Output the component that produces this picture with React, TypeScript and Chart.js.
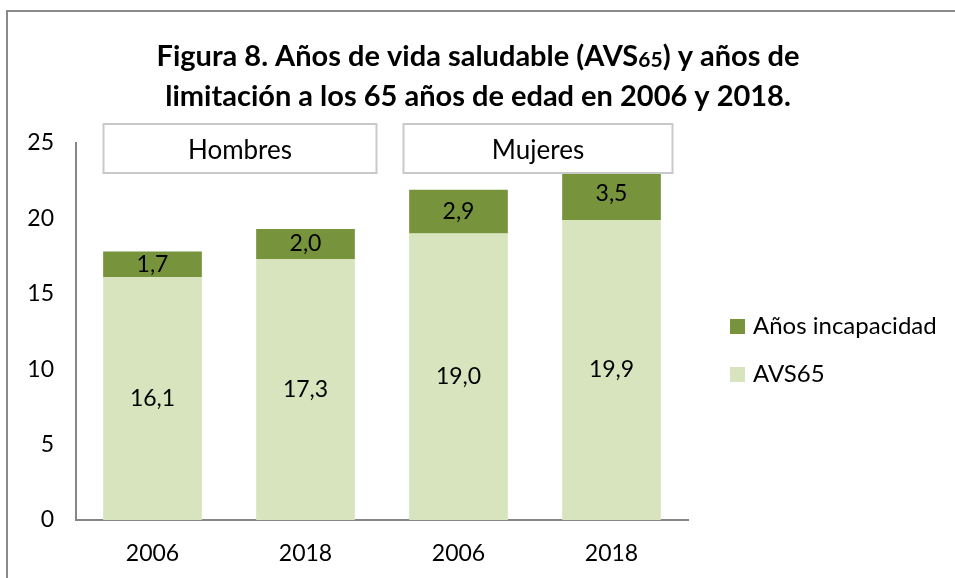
import React, { useEffect, useRef } from "react";
import { Chart, registerables } from "chart.js";

Chart.register(...registerables);

const categories = ["2006", "2018", "2006", "2018"];
const avs65 = [16.1, 17.3, 19.0, 19.9];
const incapacidad = [1.7, 2.0, 2.9, 3.5];
const seriesNames = ["AVS65", "Años incapacidad"];
const groups = ["Hombres", "Mujeres"];
const yTicks = [0, 5, 10, 15, 20, 25];
const titleLine1 = [
  { t: "Figura 8. Años de vida saludable (AVS", small: false },
  { t: "65", small: true },
  { t: ") y años de", small: false },
];
const titleLine2 = "limitación a los 65 años de edad en 2006 y 2018.";

const LIGHT = "#d7e4bd";
const DARK = "#77933c";
const AXIS = "#868686";
const FONT = "Lato, 'Open Sans', sans-serif";

const fmt = (v: number) => v.toFixed(1).replace(".", ",");

const decorPlugin = {
  id: "decor",
  beforeDraw(chart: any) {
    const ctx = chart.ctx;
    ctx.save();
    ctx.fillStyle = "#ffffff";
    ctx.fillRect(0, 0, chart.width, chart.height);
    ctx.strokeStyle = "#8a8a8a";
    ctx.lineWidth = 2;
    ctx.strokeRect(7, 11, chart.width + 10, chart.height + 10);
    ctx.restore();
  },
  afterDraw(chart: any) {
    const ctx = chart.ctx;
    const cx = 478;
    ctx.save();
    ctx.fillStyle = "#000";
    ctx.textBaseline = "middle";
    const big = `bold 29px ${FONT}`;
    const small = `bold 21px ${FONT}`;
    let total = 0;
    for (const s of titleLine1) {
      ctx.font = s.small ? small : big;
      total += ctx.measureText(s.t).width;
    }
    let x = cx - total / 2;
    ctx.textAlign = "left";
    for (const s of titleLine1) {
      ctx.font = s.small ? small : big;
      ctx.fillText(s.t, x, s.small ? 60 : 57);
      x += ctx.measureText(s.t).width;
    }
    ctx.font = big;
    ctx.textAlign = "center";
    ctx.fillText(titleLine2, cx, 97);

    const xs = chart.scales.x;
    const boxes = [
      { label: groups[0], l: xs.getPixelForValue(0) - 49, r: xs.getPixelForValue(1) + 71 },
      { label: groups[1], l: xs.getPixelForValue(2) - 55, r: xs.getPixelForValue(3) + 61 },
    ];
    for (const b of boxes) {
      ctx.fillStyle = "#ffffff";
      ctx.fillRect(b.l, 124, b.r - b.l, 49);
      ctx.strokeStyle = "#c9c9c9";
      ctx.lineWidth = 2;
      ctx.strokeRect(b.l, 124, b.r - b.l, 49);
      ctx.fillStyle = "#000";
      ctx.font = `26px ${FONT}`;
      ctx.fillText(b.label, (b.l + b.r) / 2, 151);
    }

    const legend = [
      { name: seriesNames[1], color: DARK, y: 326 },
      { name: seriesNames[0], color: LIGHT, y: 374 },
    ];
    ctx.textAlign = "left";
    ctx.font = `24px ${FONT}`;
    for (const l of legend) {
      ctx.fillStyle = l.color;
      ctx.fillRect(730, l.y - 7, 15, 15);
      ctx.fillStyle = "#000";
      ctx.fillText(l.name, 753, l.y);
    }
    ctx.restore();
  },
  afterDatasetsDraw(chart: any) {
    const ctx = chart.ctx;
    ctx.save();
    ctx.fillStyle = "#000";
    ctx.font = `23px ${FONT}`;
    ctx.textAlign = "center";
    ctx.textBaseline = "middle";
    chart.data.datasets.forEach((ds: any, di: number) => {
      const meta = chart.getDatasetMeta(di);
      meta.data.forEach((bar: any, i: number) => {
        const y = (bar.y + bar.base) / 2;
        ctx.fillText(fmt(ds.data[i]), bar.x, y);
      });
    });
    ctx.restore();
  },
};

export default function App() {
  const ref = useRef<HTMLCanvasElement | null>(null);
  useEffect(() => {
    if (!ref.current) return;
    const chart = new Chart(ref.current, {
      type: "bar",
      data: {
        labels: categories,
        datasets: [
          { label: seriesNames[0], data: avs65, backgroundColor: LIGHT, borderWidth: 0 },
          { label: seriesNames[1], data: incapacidad, backgroundColor: DARK, borderWidth: 0 },
        ],
      },
      options: {
        animation: false,
        responsive: false,
        devicePixelRatio: 1,
        layout: { padding: { left: 0, right: 267, top: 143, bottom: 0 } },
        plugins: { legend: { display: false }, title: { display: false }, tooltip: { enabled: false } },
        datasets: { bar: { categoryPercentage: 1, barPercentage: 0.645 } },
        scales: {
          x: {
            stacked: true,
            grid: { display: false, drawTicks: false },
            border: { display: true, color: AXIS, width: 2 },
            ticks: { color: "#000", font: { family: FONT, size: 23 }, padding: 20 },
            afterFit: (s: any) => { s.height = 58; },
          },
          y: {
            stacked: true,
            min: 0,
            max: 25,
            afterBuildTicks: (s: any) => { s.ticks = yTicks.map((v) => ({ value: v })); },
            grid: { display: false, drawTicks: false },
            border: { display: true, color: AXIS, width: 2 },
            ticks: { color: "#000", font: { family: FONT, size: 23 }, padding: 22 },
            afterFit: (s: any) => { s.width = 76; },
          },
        },
      },
      plugins: [decorPlugin],
    });
    return () => chart.destroy();
  }, []);
  return (
    <div style={{ position: "fixed", left: 0, top: 0, width: 955, height: 578 }}>
      <canvas ref={ref} width={955} height={578} style={{ width: 955, height: 578, display: "block" }} />
    </div>
  );
}
